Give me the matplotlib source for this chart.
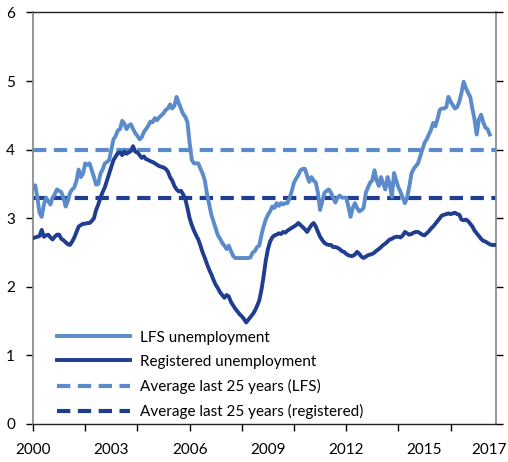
import matplotlib
matplotlib.use("Agg")
import matplotlib.pyplot as plt
import numpy as np

plt.rcParams['font.family'] = ['Lato', 'DejaVu Sans']

# monthly values, Jan 2000 onwards (per cent)
lfs = [
    3.45, 3.48, 3.30, 3.08, 3.02, 3.20, 3.30, 3.25, 3.20, 3.30, 3.35, 3.42,  # 2000
    3.40, 3.38, 3.30, 3.17, 3.25, 3.37, 3.42, 3.45, 3.55, 3.71, 3.60, 3.65,  # 2001
    3.80, 3.78, 3.80, 3.70, 3.60, 3.49, 3.50, 3.65, 3.71, 3.80, 3.82, 3.85,  # 2002
    4.00, 4.15, 4.20, 4.28, 4.30, 4.42, 4.38, 4.30, 4.35, 4.37, 4.30, 4.24,  # 2003
    4.20, 4.15, 4.18, 4.26, 4.30, 4.35, 4.41, 4.40, 4.46, 4.43, 4.47, 4.50,  # 2004
    4.53, 4.58, 4.60, 4.66, 4.60, 4.64, 4.77, 4.68, 4.60, 4.52, 4.48, 4.40,  # 2005
    4.10, 3.85, 3.80, 3.80, 3.80, 3.72, 3.65, 3.55, 3.35, 3.20, 3.05, 2.95,  # 2006
    2.85, 2.75, 2.70, 2.64, 2.60, 2.55, 2.60, 2.52, 2.45, 2.42, 2.42, 2.42,  # 2007
    2.42, 2.42, 2.42, 2.42, 2.43, 2.50, 2.52, 2.58, 2.60, 2.75, 2.88, 2.98,  # 2008
    3.05, 3.10, 3.17, 3.15, 3.22, 3.18, 3.22, 3.20, 3.22, 3.22, 3.30, 3.40,  # 2009
    3.52, 3.58, 3.63, 3.70, 3.72, 3.72, 3.62, 3.53, 3.60, 3.55, 3.52, 3.37,  # 2010
    3.12, 3.25, 3.37, 3.40, 3.42, 3.37, 3.30, 3.23, 3.30, 3.33, 3.30, 3.30,  # 2011
    3.30, 3.17, 3.02, 3.15, 3.22, 3.15, 3.10, 3.12, 3.15, 3.37, 3.45, 3.52,  # 2012
    3.55, 3.70, 3.55, 3.47, 3.60, 3.50, 3.42, 3.60, 3.50, 3.31, 3.66, 3.55,  # 2013
    3.45, 3.38, 3.30, 3.22, 3.30, 3.46, 3.65, 3.72, 3.76, 3.80, 3.90, 4.00,  # 2014
    4.10, 4.15, 4.22, 4.29, 4.39, 4.34, 4.45, 4.58, 4.60, 4.60, 4.62, 4.77,  # 2015
    4.70, 4.65, 4.60, 4.62, 4.70, 4.83, 4.99, 4.90, 4.83, 4.77, 4.60, 4.44,  # 2016
    4.22, 4.44, 4.51, 4.40, 4.32, 4.30, 4.22,                                # 2017
]

registered = [
    2.71, 2.72, 2.73, 2.74, 2.83, 2.73, 2.75, 2.76, 2.72, 2.69, 2.73, 2.76,  # 2000
    2.76, 2.70, 2.68, 2.65, 2.62, 2.61, 2.66, 2.72, 2.80, 2.88, 2.90, 2.92,  # 2001
    2.92, 2.93, 2.93, 2.96, 3.00, 3.12, 3.20, 3.30, 3.38, 3.45, 3.55, 3.65,  # 2002
    3.75, 3.85, 3.90, 3.95, 3.96, 3.92, 3.97, 3.94, 3.96, 3.98, 4.05, 3.97,  # 2003
    3.96, 3.92, 3.88, 3.90, 3.86, 3.85, 3.83, 3.82, 3.80, 3.78, 3.76, 3.75,  # 2004
    3.74, 3.72, 3.68, 3.60, 3.55, 3.47, 3.42, 3.39, 3.40, 3.35, 3.28, 3.15,  # 2005
    3.00, 2.90, 2.82, 2.75, 2.69, 2.60, 2.50, 2.42, 2.33, 2.25, 2.18, 2.10,  # 2006
    2.03, 1.98, 1.92, 1.88, 1.84, 1.88, 1.86, 1.78, 1.73, 1.68, 1.64, 1.60,  # 2007
    1.57, 1.53, 1.48, 1.52, 1.56, 1.60, 1.65, 1.72, 1.80, 1.95, 2.15, 2.38,  # 2008
    2.55, 2.66, 2.72, 2.75, 2.76, 2.78, 2.77, 2.80, 2.79, 2.82, 2.84, 2.86,  # 2009
    2.88, 2.90, 2.93, 2.90, 2.87, 2.84, 2.80, 2.85, 2.90, 2.93, 2.88, 2.80,  # 2010
    2.73, 2.68, 2.64, 2.62, 2.61, 2.61, 2.58, 2.58, 2.57, 2.55, 2.52, 2.51,  # 2011
    2.48, 2.46, 2.45, 2.45, 2.47, 2.51, 2.48, 2.44, 2.42, 2.44, 2.46, 2.47,  # 2012
    2.48, 2.50, 2.53, 2.55, 2.58, 2.61, 2.63, 2.66, 2.69, 2.70, 2.72, 2.73,  # 2013
    2.73, 2.72, 2.75, 2.80, 2.78, 2.76, 2.77, 2.79, 2.80, 2.80, 2.78, 2.76,  # 2014
    2.75, 2.78, 2.81, 2.85, 2.88, 2.92, 2.96, 3.00, 3.04, 3.05, 3.06, 3.07,  # 2015
    3.06, 3.07, 3.08, 3.06, 3.05, 2.98, 2.97, 2.98, 2.96, 2.92, 2.88, 2.82,  # 2016
    2.78, 2.74, 2.70, 2.67, 2.66, 2.64, 2.62, 2.61, 2.61,                    # 2017
]

avg_lfs = 4.0
avg_registered = 3.3

year_labels = ["2000", "2003", "2006", "2009", "2012", "2015", "2017"]
year_label_pos = [2000, 2003, 2006, 2009, 2012, 2015, 2017.47]
year_ticks = list(range(2000, 2017, 2))

light = "#5b8bcb"
dark = "#213d8f"

t_lfs = 2000 + np.arange(len(lfs)) / 12
t_reg = 2000 + np.arange(len(registered)) / 12

fig = plt.figure(figsize=(5.08, 4.62), dpi=100)
ax = fig.add_axes([0.065, 0.0823, 0.9104, 0.8907])

ax.plot(t_lfs, lfs, color=light, lw=2.8, label="LFS unemployment", zorder=3)
ax.plot(t_reg, registered, color=dark, lw=2.8, label="Registered unemployment", zorder=3)
ax.axhline(avg_lfs, color=light, lw=3, dashes=(3.2, 1.8),
           label="Average last 25 years (LFS)", zorder=2)
ax.axhline(avg_registered, color=dark, lw=3, dashes=(3.2, 1.8),
           label="Average last 25 years (registered)", zorder=2)

ax.set_xlim(2000, 2017.72)
ax.set_ylim(0, 6)
ax.set_yticks(range(0, 7))
ax.tick_params(axis="y", which="both", direction="out", length=5, width=1,
               labelsize=11, pad=8, right=True, labelright=False)

# tick marks every second year, labels every third year
ax.xaxis.remove_overlapping_locs = False
ax.set_xticks(year_ticks)
ax.set_xticklabels([""] * len(year_ticks))
ax.set_xticks(year_label_pos, minor=True)
ax.set_xticklabels(year_labels, minor=True)
ax.tick_params(axis="x", which="major", direction="out", length=5, width=1)
ax.tick_params(axis="x", which="minor", length=0, labelsize=11, pad=14)

for side in ["left", "right"]:
    ax.spines[side].set_color("#8c8c8c")
    ax.spines[side].set_linewidth(1.3)
for side in ["top", "bottom"]:
    ax.spines[side].set_color("#222222")
    ax.spines[side].set_linewidth(1.0)
for tl in ax.yaxis.get_ticklines():
    tl.set_color("#555555")

leg = ax.legend(loc="lower left", bbox_to_anchor=(0.052, 0.012), frameon=False,
                fontsize=11, handlelength=4.8, handletextpad=0.65,
                labelspacing=0.66, borderpad=0, borderaxespad=0)

fig.savefig("out.png", dpi=100)
